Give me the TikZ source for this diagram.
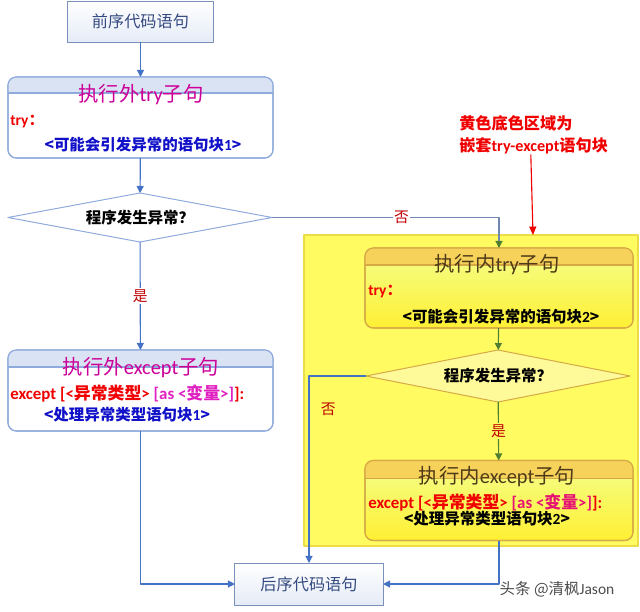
\documentclass[tikz,border=0pt]{standalone}
\usepackage{fontspec}
\setmainfont{Noto Sans CJK SC}
\newfontfamily\en{Carlito}
\usetikzlibrary{arrows.meta,shapes.geometric}
\definecolor{lineblue}{RGB}{68,114,196}
\definecolor{linkgray}{RGB}{112,136,178}
\definecolor{arrgreen}{RGB}{80,126,50}
\definecolor{boxedge}{RGB}{143,170,220}
\definecolor{boxhead}{RGB}{218,227,243}
\definecolor{slate}{RGB}{52,74,128}
\definecolor{ttlpink}{RGB}{204,0,153}
\definecolor{codeblue}{RGB}{16,16,200}
\definecolor{kwred}{RGB}{240,0,0}
\definecolor{argpink}{RGB}{224,32,192}
\definecolor{yesno}{RGB}{192,0,0}
\definecolor{ylwfill}{RGB}{255,251,96}
\definecolor{ylwedge}{RGB}{236,220,70}
\definecolor{goldedge}{RGB}{214,168,70}
\definecolor{goldhead}{RGB}{246,210,90}
\definecolor{ttlbrown}{RGB}{78,58,24}

\begin{document}
\begin{tikzpicture}[x=0.025cm,y=-0.025cm,line join=round,
  plainbox/.style={draw=boxedge!85!black,line width=0.7pt,top color=white,bottom color=boxhead!70,inner sep=0pt,outer sep=0pt,text=slate,font=\fontsize{11.5}{13}\selectfont},
  obox/.style={draw=boxedge,line width=0.8pt,fill=white,rounded corners=6pt,inner sep=0pt,outer sep=0pt,minimum width=6.625cm,minimum height=2.025cm},
  ibox/.style={draw=goldedge,line width=0.8pt,top color=green!10!yellow!45,bottom color=yellow!85!orange!80,rounded corners=6pt,inner sep=0pt,outer sep=0pt,minimum width=6.7cm,minimum height=2.0cm},
  odia/.style={diamond,shape aspect=5.4,draw=boxedge,line width=0.7pt,fill=white,inner sep=0pt,outer sep=0pt,minimum width=6.6cm,minimum height=1.225cm,font=\fontsize{11}{13}\selectfont\bfseries},
  idia/.style={diamond,shape aspect=5.1,draw=goldedge,line width=0.7pt,fill=yellow!40,inner sep=0pt,outer sep=0pt,minimum width=6.6cm,minimum height=1.3cm,font=\fontsize{11}{13}\selectfont\bfseries},
  ttl/.style={font=\fontsize{14.5}{16}\selectfont,inner sep=0pt},
  code/.style={font=\fontsize{11}{13}\selectfont\bfseries,inner sep=0pt},
  exline/.style={font=\fontsize{12}{14}\selectfont\bfseries,inner sep=0pt,anchor=west,text=kwred},
  yn/.style={text=yesno,font=\fontsize{10.5}{12}\selectfont,inner sep=1pt},
  flowln/.style={draw=lineblue,line width=0.8pt,-{Triangle[length=5pt,width=5pt]}},
  grnln/.style={draw=arrgreen,line width=0.8pt,-{Triangle[length=5pt,width=5pt]}},
  note/.style={text=kwred,font=\fontsize{11.5}{13}\selectfont\bfseries,inner sep=0pt,anchor=west}]
\useasboundingbox (0,0) rectangle (640,612);

% nested region
\node[draw=ylwedge,line width=0.8pt,fill=ylwfill,inner sep=0pt,outer sep=0pt,minimum width=8.35cm,minimum height=7.775cm] (zone) at (471,390.5) {};

% outer blocks
\node[plainbox,minimum width=3.625cm,minimum height=1.025cm] (pre) at (140.5,21.5) {前序代码语句};
\node[obox] (otry) at (140.5,117.5) {};
\begin{scope}
\clip[rounded corners=6pt] (otry.north west) rectangle (otry.south east);
\fill[boxhead] (otry.north west) rectangle ([yshift=-0.4cm]otry.north east);
\end{scope}
\draw[boxedge,line width=0.8pt] ([yshift=-0.4cm]otry.north west) -- ([yshift=-0.4cm]otry.north east);
\draw[boxedge,line width=0.8pt,rounded corners=6pt] (otry.north west) rectangle (otry.south east);
\node[ttl,text=ttlpink] (otryT) at (141,95) {执行外{\en try}子句};
\node[code,text=kwred,anchor=west] (otryK) at (10,122) {{\en try}：};
\node[code,text=codeblue] (otryB) at (143,145) {<可能会引发异常的语句块{\en 1}>};

\node[odia] (dia1) at (140,217.5) {程序发生异常？};

\node[obox] (oexc) at (140.5,390.5) {};
\begin{scope}
\clip[rounded corners=6pt] (oexc.north west) rectangle (oexc.south east);
\fill[boxhead] (oexc.north west) rectangle ([yshift=-0.425cm]oexc.north east);
\end{scope}
\draw[boxedge,line width=0.8pt] ([yshift=-0.425cm]oexc.north west) -- ([yshift=-0.425cm]oexc.north east);
\draw[boxedge,line width=0.8pt,rounded corners=6pt] (oexc.north west) rectangle (oexc.south east);
\node[ttl,text=ttlpink] (oexcT) at (141,368) {执行外{\en except}子句};
\node[exline] (oexcK) at (10,393) {{\en except [<}异常类型{\en >} \textcolor{argpink}{{\en [as <}变量{\en >]}}{\en ]:}};
\node[code,text=codeblue] (oexcB) at (127,415) {<处理异常类型语句块{\en 1}>};

\node[plainbox,minimum width=3.7cm,minimum height=1.05cm] (post) at (309,584) {后序代码语句};

% inner blocks
\node[ibox] (itry) at (499,288) {};
\begin{scope}
\clip[rounded corners=6pt] (itry.north west) rectangle (itry.south east);
\fill[goldhead] (itry.north west) rectangle ([yshift=-0.425cm]itry.north east);
\end{scope}
\draw[goldedge,line width=0.8pt] ([yshift=-0.425cm]itry.north west) -- ([yshift=-0.425cm]itry.north east);
\draw[goldedge,line width=0.8pt,rounded corners=6pt] (itry.north west) rectangle (itry.south east);
\node[ttl,text=ttlbrown] (itryT) at (497,265) {执行内{\en try}子句};
\node[code,text=kwred,anchor=west] (itryK) at (368,292) {{\en try}：};
\node[code,text=black] (itryB) at (501,317) {<可能会引发异常的语句块{\en 2}>};

\node[idia] (dia2) at (498,376) {程序发生异常？};

\node[ibox] (iexc) at (499,500.5) {};
\begin{scope}
\clip[rounded corners=6pt] (iexc.north west) rectangle (iexc.south east);
\fill[goldhead] (iexc.north west) rectangle ([yshift=-0.45cm]iexc.north east);
\end{scope}
\draw[goldedge,line width=0.8pt] ([yshift=-0.45cm]iexc.north west) -- ([yshift=-0.45cm]iexc.north east);
\draw[goldedge,line width=0.8pt,rounded corners=6pt] (iexc.north west) rectangle (iexc.south east);
\node[ttl,text=ttlbrown] (iexcT) at (497,477) {执行内{\en except}子句};
\node[exline] (iexcK) at (368,502) {{\en except [<}异常类型{\en >} \textcolor{argpink!60!kwred}{{\en [as <}变量{\en >]}}{\en ]:}};
\node[code,text=black] (iexcB) at (487,519) {<处理异常类型语句块{\en 2}>};

% connectors
\draw[flowln] (pre) -- (otry);
\draw[flowln] (otry) -- (dia1);
\draw[flowln] (dia1) -- node[yn,fill=white] (yes1) {是} (oexc);
\draw[draw=linkgray,line width=0.8pt,-{Triangle[length=5pt,width=5pt,color=arrgreen]}] (dia1.east) -| node[yn,fill=white,pos=0.285] (no1) {否} (itry.north);
\draw[grnln] (itry) -- (dia2);
\draw[grnln] (dia2) -- node[yn,fill=ylwfill] (yes2) {是} (iexc);
\draw[flowln] (dia2.west) -| node[yn,pos=0.59,anchor=west,xshift=7pt] (no2) {否} (post.north);
\draw[flowln] (oexc.south) |- (post.west);
\draw[flowln] (iexc.south) |- (post.east);

% note
\node[note] (noteA) at (459,123) {黄色底色区域为};
\node[note] (noteB) at (459,146) {嵌套{\en try-except}语句块};
\coordinate (noteTip) at (533,235);
\draw[kwred,line width=0.8pt,-{Triangle[length=6pt,width=5pt]}] ([xshift=-2pt]noteB.south) -- (noteTip);

\node[text=black!70,font=\fontsize{11}{13}\selectfont,inner sep=0pt] (mark) at (557,589) {头条 @清枫{\en Jason}};
\end{tikzpicture}
\end{document}
